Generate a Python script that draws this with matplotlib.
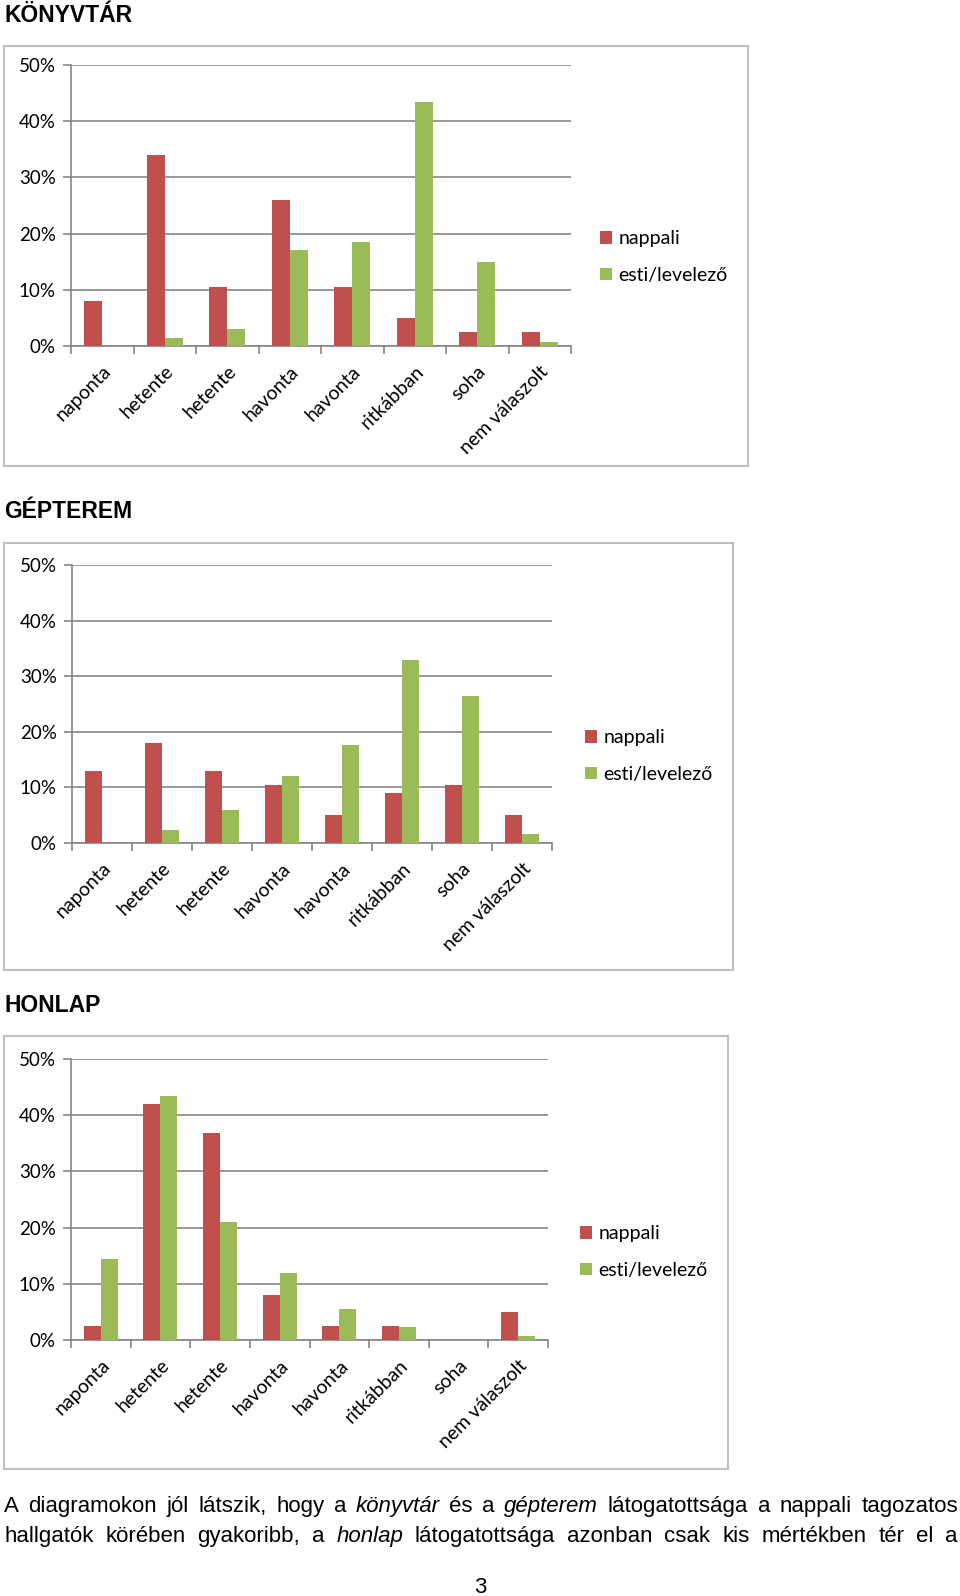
import matplotlib
matplotlib.use('Agg')
import matplotlib.pyplot as plt
from matplotlib.patches import Rectangle
import numpy as np

# adatok (leolvasva a diagramokról, %)
categories = ['naponta', 'hetente', 'hetente', 'havonta', 'havonta',
              'ritkábban', 'soha', 'nem válaszolt']
series_names = ['nappali', 'esti/levelező']

konyvtar_nappali = [8, 34, 10.5, 26, 10.5, 5, 2.5, 2.5]
konyvtar_esti = [0, 1.5, 3, 17, 18.5, 43.5, 15, 0.7]

gepterem_nappali = [13, 18, 13, 10.5, 5, 9, 10.5, 5]
gepterem_esti = [0, 2.4, 6, 12, 17.7, 33, 26.5, 1.6]

honlap_nappali = [2.5, 42, 36.8, 8, 2.5, 2.5, 0, 5]
honlap_esti = [14.5, 43.5, 21, 12, 5.6, 2.4, 0, 0.8]

y_ticks = [0, 10, 20, 30, 40, 50]

line1 = [('A', 0), ('diagramokon', 0), ('jól', 0), ('látszik,', 0), ('hogy', 0), ('a', 0),
         ('könyvtár', 1), ('és', 0), ('a', 0), ('gépterem', 1), ('látogatottsága', 0),
         ('a', 0), ('nappali', 0), ('tagozatos', 0)]
line2 = [('hallgatók', 0), ('körében', 0), ('gyakoribb,', 0), ('a', 0), ('honlap', 1),
         ('látogatottsága', 0), ('azonban', 0), ('csak', 0), ('kis', 0), ('mértékben', 0),
         ('tér', 0), ('el', 0), ('a', 0)]

RED = '#C0504D'
GREEN = '#9BBB59'
GRID = '#868686'
W, H = 960, 1596

fig = plt.figure(figsize=(W / 100, H / 100), dpi=100)


def fx(x):
    return x / W


def fy(y):
    return 1 - y / H


def chart(title, title_y, box, axbox, leg, nappali, esti):
    fig.text(fx(4), fy(title_y), title, fontsize=16.5, fontweight='bold',
             family='Liberation Sans', va='center', ha='left')
    l, t, r, b = box
    fig.patches.append(Rectangle((fx(l), fy(b)), fx(r - l), (b - t) / H,
                                 transform=fig.transFigure, fill=False,
                                 edgecolor='#BFBFBF', lw=1.5))
    l, t, r, b = axbox
    ax = fig.add_axes([fx(l), fy(b), fx(r - l), (b - t) / H])
    x = np.arange(len(categories))
    w = 0.285
    h1 = ax.bar(x - w / 2, nappali, w, color=RED, label=series_names[0], zorder=3)
    h2 = ax.bar(x + w / 2, esti, w, color=GREEN, label=series_names[1], zorder=3)
    ax.set_xlim(-0.5, len(categories) - 0.5)
    ax.set_ylim(0, 50)
    ax.set_yticks(y_ticks)
    ax.set_yticklabels([f'{v}%' for v in y_ticks], family='Lato', fontsize=13.5)
    ax.yaxis.grid(True, color=GRID, lw=1.2, zorder=0)
    ax.set_xticks(np.arange(len(categories) + 1) - 0.5)
    ax.set_xticklabels([])
    ax.set_xticks(x, minor=True)
    ax.set_xticklabels(categories, minor=True, rotation=45, ha='right',
                       rotation_mode='anchor', family='Lato', fontsize=14)
    ax.tick_params(axis='x', which='major', length=6, color=GRID, width=1.2)
    ax.tick_params(axis='x', which='minor', length=0, pad=12)
    ax.tick_params(axis='y', length=6, color=GRID, width=1.2, pad=5)
    for s in ['top', 'right']:
        ax.spines[s].set_visible(False)
    for s in ['left', 'bottom']:
        ax.spines[s].set_color(GRID)
        ax.spines[s].set_linewidth(1.2)
    fig.legend([h1, h2], series_names, loc='center left', frameon=False,
               bbox_to_anchor=(fx(leg[0]), fy(leg[1])), bbox_transform=fig.transFigure,
               prop={'family': 'Lato', 'size': 14}, handlelength=0.6, handleheight=0.6,
               handletextpad=0.35, labelspacing=1.0, borderpad=0, borderaxespad=0)
    return ax


chart('KÖNYVTÁR', 15, (4, 46, 748, 466), (71, 65, 571, 346), (600, 257),
      konyvtar_nappali, konyvtar_esti)
chart('GÉPTEREM', 512, (4, 543, 733, 970), (72, 565, 552, 843), (585, 756),
      gepterem_nappali, gepterem_esti)
chart('HONLAP', 1006, (4, 1036, 728, 1469), (71, 1059, 548, 1340), (580, 1252),
      honlap_nappali, honlap_esti)

renderer = fig.canvas.get_renderer()


def justified(words, base_y, x0=4, x1=958, size=16):
    texts = []
    for word, it in words:
        t = fig.text(0, fy(base_y), word, fontsize=size, family='Liberation Sans',
                     style='italic' if it else 'normal', va='baseline', ha='left')
        texts.append(t)
    widths = [t.get_window_extent(renderer).width for t in texts]
    gap = (x1 - x0 - sum(widths)) / (len(texts) - 1)
    xx = x0
    for t, wd in zip(texts, widths):
        t.set_x(fx(xx))
        xx += wd + gap


justified(line1, 1512)
justified(line2, 1542)
fig.text(fx(480), fy(1593), '3', fontsize=16, family='Liberation Sans',
         ha='center', va='baseline')

fig.savefig('out.png', dpi=100)
